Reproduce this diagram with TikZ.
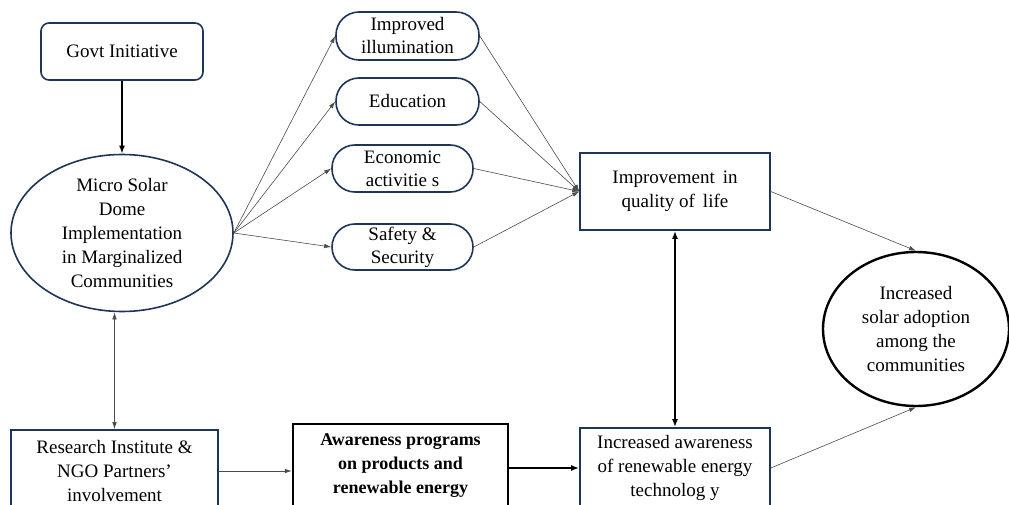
\documentclass[tikz,border=0pt]{standalone}
\usepackage{fontspec}
\setmainfont{Liberation Serif}
\usetikzlibrary{arrows.meta,shapes.geometric,calc}
\definecolor{navy}{HTML}{1F3558}
\begin{document}
\begin{tikzpicture}[x=1pt,y=-1pt,
  base/.style={draw=navy,line width=1.6pt,fill=white,align=center,inner sep=0pt,
    font=\fontsize{19}{24}\selectfont},
  rbox/.style={base,rectangle,rounded corners=8pt},
  pill/.style={base,rectangle,rounded corners=23pt,font=\fontsize{19}{23}\selectfont},
  sbox/.style={base,rectangle},
  ell/.style={base,ellipse},
  thin/.style={draw=black!70,line width=0.6pt,-{Latex[length=7pt,width=4.5pt]}},
  thinb/.style={draw=black!70,line width=0.6pt,{Latex[length=7pt,width=4.5pt]}-{Latex[length=7pt,width=4.5pt]}},
  thick/.style={draw=black,line width=2pt,-{Latex[length=8pt,width=6pt]}},
  thickb/.style={draw=black,line width=1.8pt,{Latex[length=8pt,width=6pt]}-{Latex[length=8pt,width=6pt]}}
]
\useasboundingbox (0,0) rectangle (1009,505);
\fill[white] (0,0) rectangle (1009,505);
\clip (0,0) rectangle (1009,505);

\node[rbox,minimum width=162pt,minimum height=57pt] (g) at (122,51.5) {Govt Initiative};
\node[ell,minimum width=222pt,minimum height=157pt] (m) at (122,233)
  {Micro Solar\\Dome\\Implementation\\in Marginalized\\Communities};

\node[pill,minimum width=143pt,minimum height=48pt] (p1) at (407.5,36) {Improved\\illumination};
\node[pill,minimum width=143pt,minimum height=47pt] (p2) at (407.5,101.5) {Education};
\node[pill,minimum width=141pt,minimum height=47pt] (p3) at (402.5,168.5) {Economic\\activitie s};
\node[pill,minimum width=141pt,minimum height=46pt] (p4) at (402.5,247) {Safety \&\\Security};

\node[sbox,minimum width=190pt,minimum height=77pt] (q) at (675,191.5) {Improvement\, in\\quality of\, life};
\node[ell,draw=black,line width=2.4pt,minimum width=186pt,minimum height=154pt] (s) at (916,329)
  {Increased\\solar adoption\\among the\\communities};

\node[sbox,minimum width=207pt,minimum height=82pt] (r) at (114.5,471)
  {Research Institute \&\\NGO Partners'\\involvement};
\node[sbox,draw=black,line width=2.4pt,minimum width=215pt,minimum height=84pt,
  font=\bfseries\fontsize{18}{24}\selectfont] (a) at (400.5,466)
  {Awareness programs\\on products and\\renewable energy};
\node[sbox,minimum width=190pt,minimum height=80pt] (w) at (675,468)
  {Increased awareness\\of renewable energy\\technolog y};

\coordinate (qin) at (q.west);

\draw[thick] (g) -- (m);
\foreach \p in {p1,p2,p3,p4} {
  \draw[thin] (m.east) -- (\p.west);
  \draw[thin] (\p.east) -- (qin);
}
\draw[thin] (q.east) -- (s.north);
\draw[thin] (w.east) -- (s.south);
\draw[thickb] (q.south) -- (w.north);
\draw[thinb] (m.south -| r.north) -- (r.north);
\draw[thin] (r.east) -- (r.east -| a.west);
\draw[thick] (a.east |- w.west) -- (w.west);
\end{tikzpicture}
\end{document}
